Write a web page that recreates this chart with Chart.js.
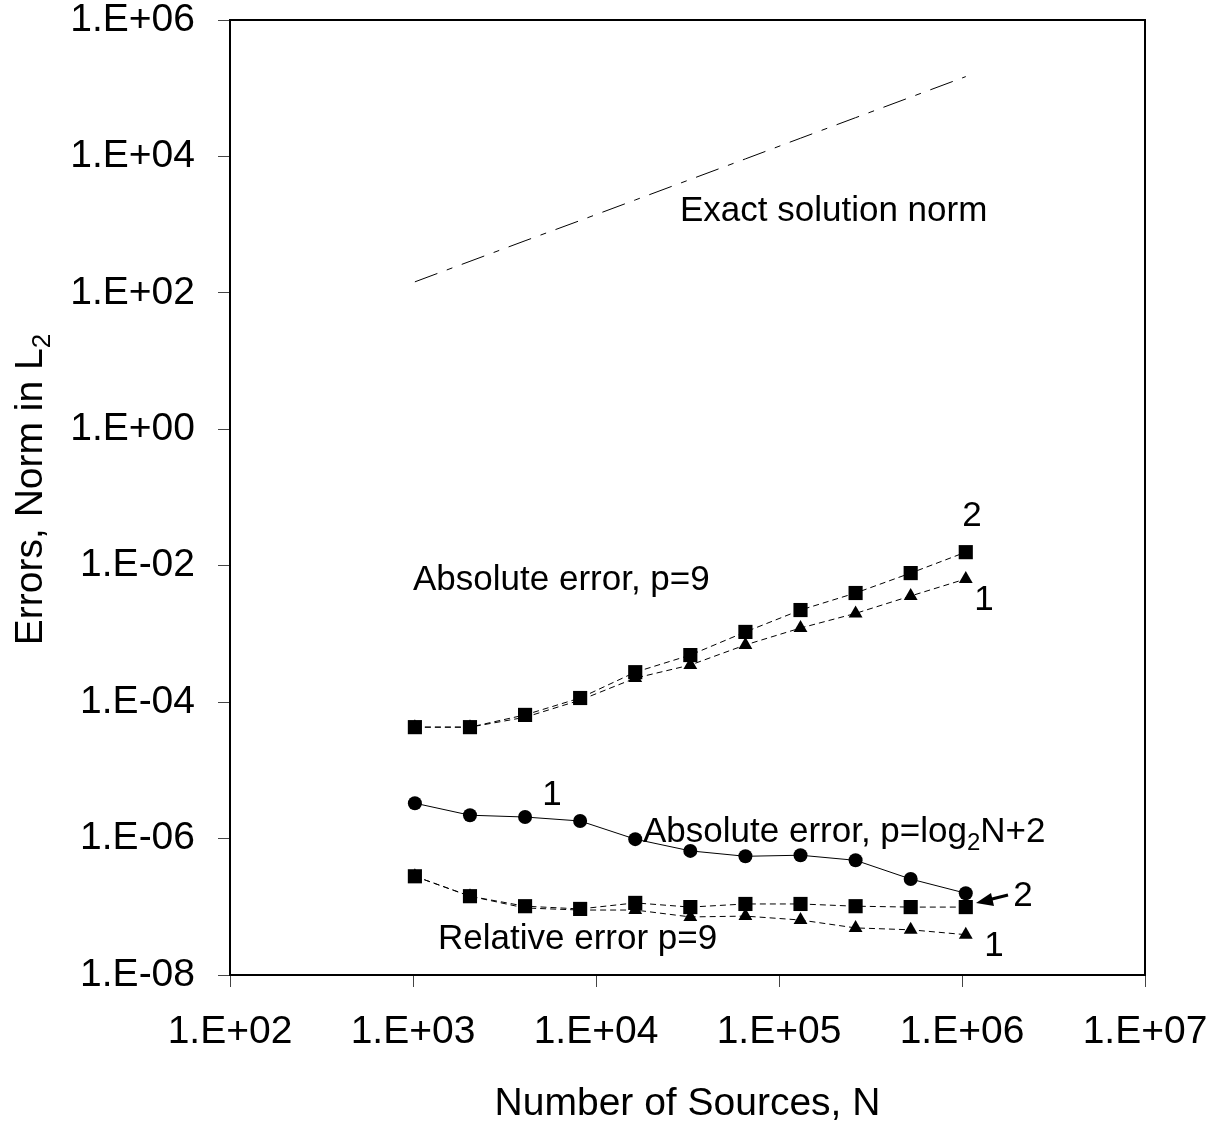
<!DOCTYPE html>
<html>
<head>
<meta charset="utf-8">
<script src="https://cdn.jsdelivr.net/npm/chart.js@4.4.1/dist/chart.umd.min.js"></script>
<style>
  html, body { margin: 0; padding: 0; background: #fff; }
  #wrap { width: 1222px; height: 1122px; }
</style>
</head>
<body>
<div id="wrap"><canvas id="errChart" width="1222" height="1122"></canvas></div>
<script>
// Number of sources N (2^10 .. 2^20)
const nValues = [1024, 2048, 4096, 8192, 16384, 32768, 65536, 131072, 262144, 524288, 1048576];

// Exact solution norm (dash-dot line)
const exactNorm = [145, 290, 580, 1150, 2300, 4600, 9200, 18500, 37000, 74000, 148000];

// Absolute error, p=9 : curve 2 (squares) and curve 1 (triangles)
const absP9Sq  = [4.3e-5, 4.3e-5, 6.5e-5, 1.15e-4, 2.75e-4, 4.9e-4, 1.07e-3, 2.24e-3, 3.98e-3, 7.8e-3, 1.58e-2];
const absP9Tri = [4.3e-5, 4.3e-5, 6.0e-5, 1.07e-4, 2.25e-4, 3.5e-4, 6.9e-4, 1.22e-3, 2.0e-3, 3.6e-3, 6.4e-3];

// Absolute error, p=log2N+2 (circles)
const absLogCirc = [3.3e-6, 2.2e-6, 2.07e-6, 1.81e-6, 9.8e-7, 6.6e-7, 5.5e-7, 5.7e-7, 4.8e-7, 2.55e-7, 1.58e-7];

// Relative error p=9 : curve 2 (squares) and curve 1 (triangles)
const relP9Sq  = [2.8e-7, 1.43e-7, 1.02e-7, 9.3e-8, 1.14e-7, 9.9e-8, 1.1e-7, 1.1e-7, 1.02e-7, 9.9e-8, 9.9e-8];
const relP9Tri = [2.8e-7, 1.43e-7, 9.6e-8, 8.96e-8, 8.96e-8, 7.1e-8, 7.3e-8, 6.4e-8, 4.9e-8, 4.6e-8, 3.9e-8];

// Axis ticks
const xTickValues = [1e2, 1e3, 1e4, 1e5, 1e6, 1e7];
const xTickLabels = ['1.E+02', '1.E+03', '1.E+04', '1.E+05', '1.E+06', '1.E+07'];
const yTickValues = [1e-8, 1e-6, 1e-4, 1e-2, 1e0, 1e2, 1e4, 1e6];
const yTickLabels = ['1.E-08', '1.E-06', '1.E-04', '1.E-02', '1.E+00', '1.E+02', '1.E+04', '1.E+06'];

const FONT = '"Liberation Sans", Arial, sans-serif';

function toPoints(ys) {
    return nValues.map((n, i) => ({ x: n, y: ys[i] }));
}

function series(label, ys, style, dash, radius, width) {
    return {
        label: label,
        data: toPoints(ys),
        borderColor: '#000',
        backgroundColor: '#000',
        pointBackgroundColor: '#000',
        pointBorderColor: '#000',
        pointBorderWidth: 0,
        borderWidth: width || 1,
        borderDash: dash,
        pointStyle: style,
        pointRadius: radius,
        tension: 0,
        fill: false
    };
}

// text with a subscript part, drawn left to right from x
function drawParts(ctx, parts, x, y) {
    parts.forEach(p => {
        ctx.font = p.size + 'px ' + FONT;
        ctx.fillText(p.text, x, y + (p.shift || 0));
        x += ctx.measureText(p.text).width;
    });
}
function partsWidth(ctx, parts) {
    let w = 0;
    parts.forEach(p => {
        ctx.font = p.size + 'px ' + FONT;
        w += ctx.measureText(p.text).width;
    });
    return w;
}

const decorPlugin = {
    id: 'decor',
    afterDraw(chart) {
        const ctx = chart.ctx;
        const a = chart.chartArea;
        ctx.save();
        // plot frame
        ctx.strokeStyle = '#000';
        ctx.lineWidth = 2;
        ctx.strokeRect(a.left, a.top, a.right - a.left, a.bottom - a.top);

        ctx.fillStyle = '#000';
        ctx.textBaseline = 'alphabetic';

        // axis titles
        ctx.textAlign = 'left';
        const xt = [{ text: 'Number of Sources, N', size: 39 }];
        drawParts(ctx, xt, (a.left + a.right) / 2 - partsWidth(ctx, xt) / 2, 1115);

        const yt = [{ text: 'Errors, Norm in L', size: 39 }, { text: '2', size: 26, shift: 8 }];
        ctx.save();
        ctx.translate(42, (a.top + a.bottom) / 2 - 8);
        ctx.rotate(-Math.PI / 2);
        drawParts(ctx, yt, -partsWidth(ctx, yt) / 2, 0);
        ctx.restore();

        // curve annotations
        drawParts(ctx, [{ text: 'Exact solution norm', size: 35 }], 680, 221);
        drawParts(ctx, [{ text: 'Absolute error, p=9', size: 35 }], 413, 590);
        drawParts(ctx, [
            { text: 'Absolute error, p=log', size: 35 },
            { text: '2', size: 24, shift: 8 },
            { text: 'N+2', size: 35 }
        ], 643, 842);
        drawParts(ctx, [{ text: 'Relative error p=9', size: 35 }], 438, 949);

        ctx.textAlign = 'center';
        ctx.font = '35px ' + FONT;
        ctx.fillText('2', 972, 526);
        ctx.fillText('1', 984, 610);
        ctx.fillText('1', 552, 805);
        ctx.fillText('2', 1023, 906);
        ctx.fillText('1', 994, 956);

        // arrow pointing at curve 2 of relative error
        ctx.lineWidth = 3;
        ctx.beginPath();
        ctx.moveTo(1008, 895);
        ctx.lineTo(988, 900);
        ctx.stroke();
        ctx.beginPath();
        ctx.moveTo(976, 903);
        ctx.lineTo(991, 893);
        ctx.lineTo(994, 906);
        ctx.closePath();
        ctx.fill();
        ctx.restore();
    }
};

new Chart(document.getElementById('errChart'), {
    type: 'line',
    data: {
        datasets: [
            series('Exact solution norm', exactNorm, false, [24, 10, 6, 10], 0),
            series('Absolute error, p=9 (2)', absP9Sq, 'rect', [6, 4], 10),
            series('Absolute error, p=9 (1)', absP9Tri, 'triangle', [6, 4], 8),
            series('Absolute error, p=log2N+2', absLogCirc, 'circle', [], 7),
            series('Relative error p=9 (2)', relP9Sq, 'rect', [6, 4], 10),
            series('Relative error p=9 (1)', relP9Tri, 'triangle', [6, 4], 8)
        ]
    },
    options: {
        responsive: false,
        animation: false,
        layout: { padding: { top: 20, right: 77, left: 0, bottom: 0 } },
        plugins: {
            legend: { display: false },
            tooltip: { enabled: false }
        },
        scales: {
            x: {
                type: 'logarithmic',
                min: 1e2,
                max: 1e7,
                afterFit: function(scale) {
                    scale.height = 147;
                    scale.paddingLeft = 0;
                    scale.paddingRight = 0;
                },
                afterBuildTicks: function(scale) {
                    scale.ticks = xTickValues.map(v => ({ value: v }));
                },
                border: { display: false },
                grid: { drawOnChartArea: false, drawTicks: true, tickLength: 12, color: '#444' },
                ticks: {
                    autoSkip: false,
                    maxRotation: 0,
                    padding: 26,
                    color: '#000',
                    font: { family: FONT, size: 39, lineHeight: 1 },
                    callback: function(value, index) { return xTickLabels[index]; }
                }
            },
            y: {
                type: 'logarithmic',
                min: 1e-8,
                max: 1e6,
                afterFit: function(scale) {
                    scale.width = 230;
                    scale.paddingTop = 0;
                    scale.paddingBottom = 0;
                },
                afterBuildTicks: function(scale) {
                    scale.ticks = yTickValues.map(v => ({ value: v }));
                },
                border: { display: false },
                grid: { drawOnChartArea: false, drawTicks: true, tickLength: 12, color: '#444' },
                ticks: {
                    autoSkip: false,
                    padding: 23,
                    color: '#000',
                    font: { family: FONT, size: 39, lineHeight: 1 },
                    callback: function(value, index) { return yTickLabels[index]; }
                }
            }
        }
    },
    plugins: [decorPlugin]
});
</script>
</body>
</html>
